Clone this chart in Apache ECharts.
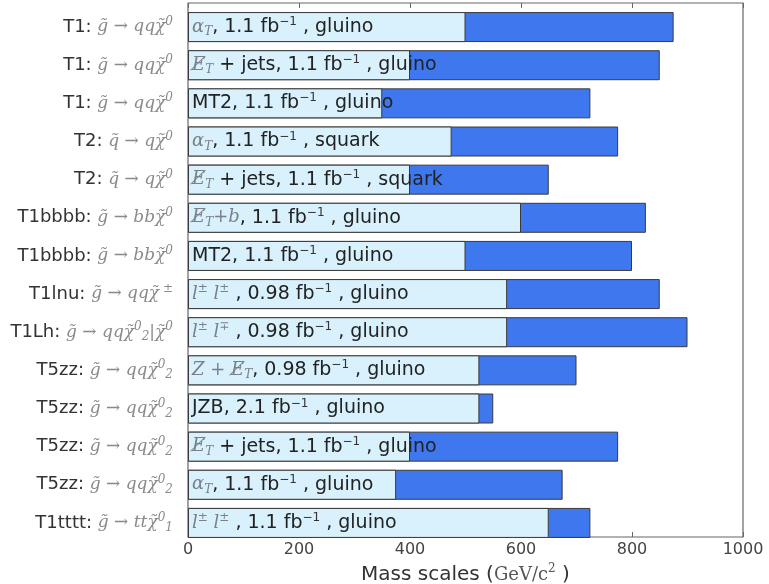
<!DOCTYPE html>
<html>
<head>
<meta charset="utf-8">
<script src="https://cdn.jsdelivr.net/npm/echarts@6/dist/echarts.min.js"></script>
<style>html,body{margin:0;padding:0;background:#fff}#c{width:769px;height:584px}</style>
</head>
<body>
<div id="c"></div>
<script>
// ---- data ----
var models = ['T1','T1','T1','T2','T2','T1bbbb','T1bbbb','T1lnu','T1Lh','T5zz','T5zz','T5zz','T5zz','T1tttt'];
var decays = [
  '{m|g̃ → qqχ̃}{u|0}',
  '{m|g̃ → qqχ̃}{u|0}',
  '{m|g̃ → qqχ̃}{u|0}',
  '{m|q̃ → qχ̃}{u|0}',
  '{m|q̃ → qχ̃}{u|0}',
  '{m|g̃ → bbχ̃}{u|0}',
  '{m|g̃ → bbχ̃}{u|0}',
  '{m|g̃ → qqχ̃}{u| ±}',
  '{m|g̃ → qqχ̃}{u|0}{d|2}{m||χ̃}{u|0}',
  '{m|g̃ → qqχ̃}{u|0}{d|2}',
  '{m|g̃ → qqχ̃}{u|0}{d|2}',
  '{m|g̃ → qqχ̃}{u|0}{d|2}',
  '{m|g̃ → qqχ̃}{u|0}{d|2}',
  '{m|g̃ → ttχ̃}{u|0}{d|1}'
];
var analyses = [
  '{m|α}{d|T}{t|, 1.1 fb}{s|−1}{t| , gluino}',
  '{m|E̸}{d|T}{t| + jets, 1.1 fb}{s|−1}{t| , gluino}',
  '{t|MT2, 1.1 fb}{s|−1}{t| , gluino}',
  '{m|α}{d|T}{t|, 1.1 fb}{s|−1}{t| , squark}',
  '{m|E̸}{d|T}{t| + jets, 1.1 fb}{s|−1}{t| , squark}',
  '{m|E̸}{d|T}{m|+b}{t|, 1.1 fb}{s|−1}{t| , gluino}',
  '{t|MT2, 1.1 fb}{s|−1}{t| , gluino}',
  '{m|l}{u|±}{m| l}{u|±}{t| , 0.98 fb}{s|−1}{t| , gluino}',
  '{m|l}{u|±}{m| l}{u|∓}{t| , 0.98 fb}{s|−1}{t| , gluino}',
  '{m|Z + E̸}{d|T}{t|, 0.98 fb}{s|−1}{t| , gluino}',
  '{t|JZB, 2.1 fb}{s|−1}{t| , gluino}',
  '{m|E̸}{d|T}{t| + jets, 1.1 fb}{s|−1}{t| , gluino}',
  '{m|α}{d|T}{t|, 1.1 fb}{s|−1}{t| , gluino}',
  '{m|l}{u|±}{m| l}{u|±}{t| , 1.1 fb}{s|−1}{t| , gluino}'
];
var lowMass  = [500, 400, 350, 475, 400, 600, 500, 575, 575, 525, 525, 400, 375, 650];
var highMass = [875, 850, 725, 775, 650, 825, 800, 850, 900, 700, 550, 775, 675, 725];
var xTicks = [0, 200, 400, 600, 800, 1000];

// ---- chart ----
var categories = models.map(function (m, i) { return '{a|' + m + ': }' + decays[i]; });
var sans = 'DejaVu Sans';
var serif = 'DejaVu Serif';
var richBar = {
  t: { fontFamily: sans, fontSize: 19, color: '#222', lineHeight: 22 },
  m: { fontFamily: serif, fontStyle: 'italic', fontSize: 18, color: '#7a8088', lineHeight: 22 },
  s: { fontFamily: sans, fontSize: 12, color: '#333', verticalAlign: 'top', lineHeight: 22, padding: [0, 0, 9, 0] },
  u: { fontFamily: serif, fontStyle: 'italic', fontSize: 12, color: '#7a8088', verticalAlign: 'top', lineHeight: 22, padding: [0, 0, 9, 0] },
  d: { fontFamily: serif, fontStyle: 'italic', fontSize: 12, color: '#7a8088', verticalAlign: 'bottom', lineHeight: 22, padding: [7, 0, 0, 0] }
};
var richCat = {
  a: { fontFamily: sans, fontSize: 18, color: '#333', lineHeight: 22 },
  m: { fontFamily: serif, fontStyle: 'italic', fontSize: 17, color: '#8a8a8a', lineHeight: 22 },
  u: { fontFamily: serif, fontStyle: 'italic', fontSize: 12, color: '#8a8a8a', verticalAlign: 'top', lineHeight: 22, padding: [0, 0, 9, 0] },
  d: { fontFamily: serif, fontStyle: 'italic', fontSize: 12, color: '#8a8a8a', verticalAlign: 'bottom', lineHeight: 22, padding: [7, 0, 0, 0] }
};

var chart = echarts.init(document.getElementById('c'), null, { renderer: 'canvas' });
chart.setOption({
  animation: false,
  backgroundColor: '#fff',
  grid: [
    { left: 188, width: 555, top: 8, height: 534, show: false, containLabel: false, outerBoundsMode: 'none' },
    { left: 188, width: 555, top: 3, height: 534, show: true, borderColor: '#666', borderWidth: 1.2,
      backgroundColor: 'transparent', containLabel: false, outerBoundsMode: 'none' }
  ],
  xAxis: [
    { gridIndex: 0, type: 'value', min: 0, max: 1000, show: false },
    {
      gridIndex: 1, type: 'value', min: 0, max: 1000, interval: 200, position: 'bottom',
      axisLine: { show: false }, splitLine: { show: false },
      axisTick: { show: true, inside: true, length: 5, lineStyle: { color: '#666' } },
      axisLabel: { margin: 5, fontFamily: sans, fontSize: 16, color: '#444',
        formatter: function (v) { return String(v); } },
      name: '{t|Mass scales (}{m|GeV/c}{u|2}{t| )}',
      nameLocation: 'middle', nameGap: 23,
      nameTextStyle: { rich: {
        t: { fontFamily: sans, fontSize: 20, color: '#333', lineHeight: 24 },
        m: { fontFamily: serif, fontSize: 18, color: '#555', lineHeight: 24 },
        u: { fontFamily: serif, fontSize: 12, color: '#555', verticalAlign: 'top', lineHeight: 24, padding: [0, 0, 10, 0] }
      } }
    },
    {
      gridIndex: 1, type: 'value', min: 0, max: 1000, interval: 200, position: 'top',
      axisLine: { show: false }, splitLine: { show: false },
      axisTick: { show: true, inside: true, length: 5, lineStyle: { color: '#666' } },
      axisLabel: { show: false }
    }
  ],
  yAxis: [
    {
      gridIndex: 0, type: 'category', data: categories, inverse: true,
      axisLine: { show: false }, axisTick: { show: false }, splitLine: { show: false },
      axisLabel: { margin: 15, rich: richCat }
    },
    { gridIndex: 1, type: 'value', min: 0, max: 1, show: false }
  ],
  series: [
    {
      type: 'bar', xAxisIndex: 0, yAxisIndex: 0, data: highMass, barWidth: 30, barGap: '-100%', z: 2,
      itemStyle: { color: '#3f77ee', borderColor: '#3a3a3a', borderWidth: 1 }
    },
    {
      type: 'bar', xAxisIndex: 0, yAxisIndex: 0, barWidth: 30, z: 3,
      data: lowMass.map(function (v, i) {
        return { value: v, label: { formatter: analyses[i] } };
      }),
      itemStyle: { color: '#d8f1fc', borderColor: '#3a3a3a', borderWidth: 1 },
      label: { show: true, position: 'insideLeft', distance: 4, rich: richBar }
    }
  ]
});
</script>
</body>
</html>
